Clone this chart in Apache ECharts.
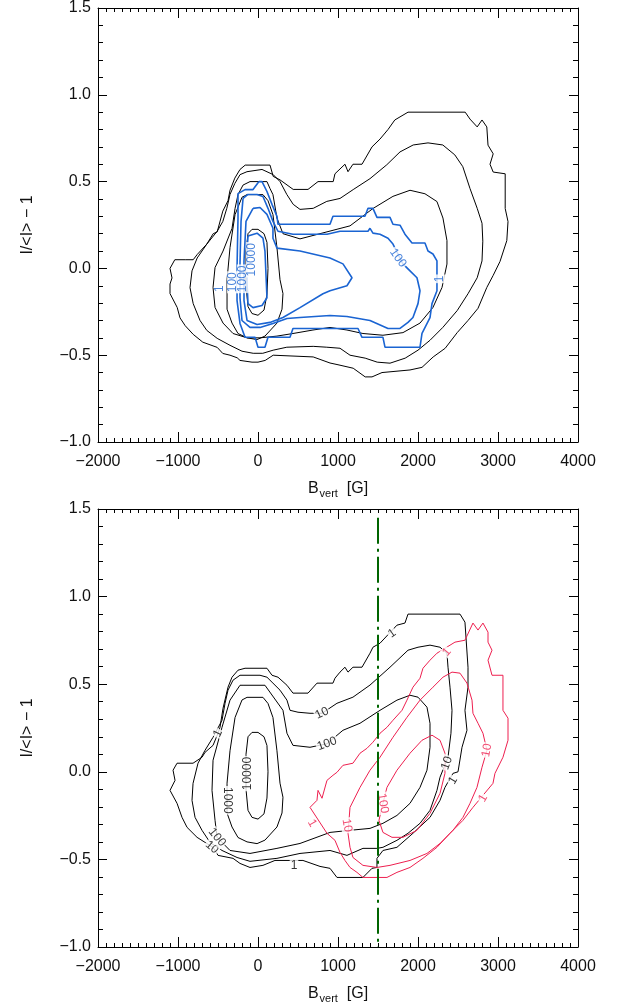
<!DOCTYPE html>
<html>
<head>
<meta charset="utf-8">
<script src="https://cdn.jsdelivr.net/npm/echarts@6/dist/echarts.min.js"></script>
<style>
  html, body { margin: 0; padding: 0; background: #fff; }
  #chart { width: 626px; height: 1008px; }
</style>
</head>
<body>
<div id="chart"></div>
<script>
// contour paths, [B_vert (G), I/<I>-1]

// upper panel, black (all pixels)
const topBlack1 = [[-1040,0.05],[-910,0.05],[-810,0.05],[-760,0.08],[-640,0.14],[-560,0.2],[-510,0.21],[-440,0.33],[-375,0.39],[-350,0.45],[-290,0.52],[-225,0.57],[-160,0.595],[150,0.595],[190,0.53],[275,0.51],[440,0.455],[625,0.455],[750,0.5],[940,0.5],[962,0.545],[1087,0.6],[1125,0.557],[1187,0.6],[1300,0.6],[1425,0.7],[1525,0.745],[1625,0.8],[1710,0.855],[1875,0.9],[2590,0.9],[2650,0.86],[2740,0.815],[2800,0.855],[2860,0.815],[2875,0.71],[2940,0.66],[2900,0.6],[2940,0.555],[3090,0.545],[3090,0.345],[3125,0.27],[3110,0.16],[3025,0.04],[2940,-0.04],[2860,-0.11],[2750,-0.23],[2625,-0.3],[2490,-0.37],[2340,-0.46],[2190,-0.51],[2050,-0.57],[1900,-0.585],[1550,-0.6],[1425,-0.625],[1340,-0.625],[1190,-0.575],[1000,-0.555],[900,-0.545],[690,-0.51],[190,-0.5],[90,-0.53],[0,-0.54],[-75,-0.54],[-225,-0.53],[-260,-0.515],[-350,-0.5],[-440,-0.49],[-510,-0.455],[-690,-0.425],[-810,-0.38],[-910,-0.33],[-975,-0.285],[-1010,-0.225],[-1100,-0.145],[-1100,-0.09],[-1075,-0.055],[-1100,0],[-1040,0.05]];
const topBlack10 = [[-225,0.54],[-138,0.557],[50,0.57],[190,0.54],[275,0.5],[360,0.426],[440,0.369],[525,0.34],[690,0.346],[860,0.386],[1025,0.403],[1190,0.454],[1400,0.517],[1610,0.597],[1775,0.671],[1940,0.711],[2125,0.723],[2310,0.711],[2460,0.654],[2560,0.586],[2650,0.46],[2740,0.346],[2800,0.26],[2810,0.157],[2800,0.043],[2740,-0.054],[2625,-0.146],[2490,-0.243],[2310,-0.34],[2150,-0.414],[2000,-0.471],[1840,-0.517],[1650,-0.546],[1490,-0.54],[1340,-0.517],[1150,-0.5],[1025,-0.46],[860,-0.454],[690,-0.449],[360,-0.454],[190,-0.471],[60,-0.489],[-60,-0.489],[-200,-0.477],[-350,-0.443],[-510,-0.403],[-640,-0.357],[-725,-0.3],[-810,-0.203],[-850,-0.111],[-825,-0.014],[-760,0.06],[-640,0.14],[-510,0.214],[-440,0.27],[-390,0.346],[-350,0.426],[-290,0.489],[-225,0.54]];
const topBlack100 = [[-100,0.5],[112,0.5],[150,0.46],[187,0.425],[237,0.29],[312,0.2],[525,0.17],[900,0.215],[1150,0.245],[1437,0.345],[1687,0.415],[1900,0.45],[2087,0.43],[2237,0.385],[2312,0.29],[2362,0.16],[2362,0.025],[2300,-0.11],[2187,-0.225],[2025,-0.315],[1812,-0.37],[1562,-0.385],[1312,-0.375],[1112,-0.355],[900,-0.34],[687,-0.355],[437,-0.375],[237,-0.39],[25,-0.4],[-137,-0.4],[-312,-0.375],[-437,-0.315],[-537,-0.225],[-562,-0.11],[-537,0.005],[-437,0.1],[-325,0.23],[-287,0.345],[-250,0.425],[-187,0.48],[-100,0.5]];
// core contours, same in both panels
const coreBlack1000 = [[-200,0.41],[-137,0.425],[62,0.425],[125,0.39],[187,0.31],[237,0.12],[275,-0.065],[312,-0.145],[300,-0.235],[237,-0.315],[87,-0.39],[-12,-0.41],[-137,-0.4],[-250,-0.375],[-325,-0.315],[-387,-0.235],[-387,-0.065],[-350,0.12],[-287,0.31],[-200,0.41]];
const coreBlack10000 = [[-125,0.2],[-75,0.225],[0,0.225],[75,0.2],[112,0.15],[125,0],[112,-0.15],[75,-0.24],[0,-0.27],[-75,-0.26],[-125,-0.22],[-150,-0.1],[-150,0.1],[-125,0.2]];

// upper panel, blue
const topBlue1 = [[12,0.5],[50,0.5],[112,0.443],[175,0.369],[237,0.3],[250,0.254],[900,0.254],[937,0.3],[1337,0.3],[1375,0.346],[1437,0.346],[1487,0.294],[1650,0.294],[1687,0.254],[1775,0.249],[1837,0.197],[1925,0.146],[2087,0.146],[2125,0.1],[2187,0.083],[2237,0.043],[2237,-0.129],[2175,-0.203],[2150,-0.283],[2050,-0.374],[2025,-0.454],[1587,-0.454],[1562,-0.397],[1300,-0.397],[1250,-0.346],[437,-0.346],[400,-0.397],[125,-0.397],[87,-0.454],[0,-0.454],[-37,-0.397],[-162,-0.397],[-225,-0.317],[-262,-0.186],[-262,0.003],[-250,0.289],[-250,0.431],[-162,0.454],[-62,0.454],[12,0.5]];
const topBlue100 = [[-187,0.403],[-125,0.426],[-12,0.426],[62,0.414],[125,0.346],[187,0.271],[250,0.214],[437,0.197],[862,0.197],[1025,0.214],[1375,0.214],[1400,0.231],[1437,0.203],[1525,0.197],[1625,0.174],[1687,0.14],[1812,0.026],[1900,-0.014],[1987,-0.054],[2025,-0.129],[2000,-0.203],[1937,-0.283],[1875,-0.311],[1775,-0.346],[1625,-0.346],[1400,-0.3],[1112,-0.277],[900,-0.271],[525,-0.283],[362,-0.289],[187,-0.317],[25,-0.34],[-100,-0.34],[-200,-0.3],[-225,-0.169],[-225,0.026],[-212,0.271],[-187,0.403]];
const topBlue1000 = [[-62,0.346],[25,0.351],[112,0.311],[187,0.231],[187,0.174],[237,0.117],[525,0.1],[900,0.06],[1062,0.026],[1175,-0.054],[1112,-0.1],[900,-0.129],[812,-0.146],[525,-0.226],[312,-0.283],[150,-0.311],[-12,-0.323],[-137,-0.3],[-175,-0.186],[-175,0.043],[-150,0.271],[-62,0.346]];
const topBlue10000 = [[-125,0.186],[-12,0.203],[62,0.174],[87,0.1],[112,-0.169],[50,-0.214],[-62,-0.226],[-125,-0.203],[-137,-0.089],[-137,0.1],[-125,0.186]];

// lower panel, black
const botBlack1 = [[-1012,0.049],[-812,0.049],[-700,0.083],[-662,0.111],[-562,0.151],[-500,0.22],[-475,0.254],[-437,0.363],[-375,0.483],[-325,0.54],[-250,0.58],[-162,0.591],[112,0.591],[175,0.551],[250,0.54],[362,0.494],[437,0.449],[625,0.449],[737,0.506],[937,0.506],[962,0.534],[1025,0.569],[1087,0.597],[1125,0.569],[1187,0.597],[1300,0.597],[1400,0.677],[1437,0.711],[1525,0.734],[1737,0.837],[1837,0.849],[1875,0.9],[2525,0.9],[2587,0.854],[2625,0.597],[2625,0.483],[2587,0.351],[2612,0.237],[2550,0.14],[2500,0],[2437,-0.009],[2337,-0.089],[2275,-0.163],[2150,-0.26],[1937,-0.351],[1737,-0.431],[1562,-0.449],[1487,-0.494],[1487,-0.546],[1425,-0.551],[1312,-0.603],[987,-0.603],[900,-0.551],[775,-0.54],[562,-0.506],[212,-0.506],[62,-0.534],[-100,-0.546],[-225,-0.523],[-312,-0.494],[-500,-0.477],[-562,-0.431],[-662,-0.403],[-762,-0.374],[-887,-0.317],[-950,-0.26],[-1012,-0.18],[-1100,-0.106],[-1037,-0.049],[-1062,0.009],[-1012,0.049]];
const botBlack10 = [[-225,0.551],[-312,0.523],[-375,0.466],[-412,0.391],[-450,0.294],[-562,0.197],[-662,0.123],[-750,0.049],[-812,-0.066],[-825,-0.163],[-787,-0.26],[-700,-0.334],[-600,-0.403],[-450,-0.449],[-262,-0.489],[-100,-0.511],[237,-0.494],[525,-0.466],[900,-0.449],[1112,-0.477],[1312,-0.437],[1487,-0.437],[1562,-0.431],[1737,-0.391],[1875,-0.351],[2025,-0.294],[2150,-0.22],[2237,-0.106],[2275,-0.031],[2375,0.083],[2412,0.22],[2425,0.351],[2400,0.483],[2375,0.597],[2362,0.677],[2275,0.711],[2150,0.723],[2000,0.711],[1875,0.694],[1650,0.597],[1400,0.495],[1187,0.426],[987,0.391],[800,0.334],[650,0.334],[500,0.34],[400,0.351],[362,0.409],[275,0.466],[187,0.506],[112,0.54],[25,0.551],[-225,0.551]];
const botBlack100 = [[-187,0.494],[87,0.494],[312,0.351],[362,0.22],[437,0.151],[650,0.14],[862,0.16],[1062,0.237],[1275,0.277],[1525,0.351],[1737,0.409],[1900,0.437],[2000,0.426],[2112,0.369],[2150,0.277],[2150,0.14],[2112,0.009],[2025,-0.089],[1900,-0.18],[1737,-0.249],[1562,-0.294],[1400,-0.323],[1150,-0.334],[900,-0.346],[525,-0.409],[237,-0.437],[-100,-0.466],[-350,-0.449],[-512,-0.374],[-537,-0.277],[-575,-0.106],[-562,0.066],[-450,0.254],[-350,0.409],[-225,0.494],[-187,0.494]];

// lower panel, red
const botRed1 = [[862,-0.351],[650,-0.203],[737,-0.163],[750,-0.106],[800,-0.151],[862,-0.049],[937,-0.02],[987,-0.003],[1062,0.037],[1187,0.049],[1275,0.106],[1362,0.134],[1437,0.169],[1525,0.22],[1612,0.254],[1687,0.294],[1800,0.351],[1862,0.409],[1937,0.483],[2025,0.534],[2062,0.591],[2150,0.637],[2237,0.677],[2462,0.74],[2587,0.751],[2687,0.849],[2750,0.809],[2812,0.849],[2875,0.797],[2875,0.74],[2925,0.694],[2875,0.637],[2925,0.551],[3062,0.551],[3062,0.351],[3125,0.306],[3125,0.18],[3062,0.083],[2962,-0.009],[2937,-0.066],[2687,-0.203],[2562,-0.277],[2400,-0.351],[2237,-0.431],[2062,-0.494],[1900,-0.546],[1737,-0.574],[1612,-0.603],[1312,-0.603],[1237,-0.574],[1150,-0.546],[1087,-0.506],[1025,-0.46],[962,-0.391],[862,-0.351]];
const botRed10 = [[2425,0.569],[2525,0.563],[2612,0.506],[2675,0.409],[2687,0.334],[2750,0.277],[2812,0.22],[2862,0.123],[2800,0.026],[2737,-0.089],[2650,-0.18],[2562,-0.26],[2437,-0.334],[2275,-0.409],[2112,-0.466],[1900,-0.506],[1650,-0.534],[1487,-0.546],[1312,-0.534],[1187,-0.489],[1150,-0.431],[1125,-0.351],[1150,-0.203],[1275,-0.089],[1400,0.009],[1525,0.083],[1687,0.197],[1862,0.311],[2025,0.409],[2187,0.483],[2312,0.54],[2425,0.569]];
const botRed100 = [[2175,0.209],[2275,0.18],[2337,0.106],[2337,-0.009],[2275,-0.123],[2150,-0.237],[1987,-0.334],[1812,-0.374],[1675,-0.374],[1562,-0.346],[1512,-0.277],[1562,-0.18],[1612,-0.089],[1737,0.009],[1900,0.106],[2050,0.18],[2175,0.209]];

// cut at 1500 G
const cutB = 1500;
const cutRange = [-1.0, 1.45];

// contour labels: [B, I, text, angle]
const topBlueLabels = [[2275,-0.06,'1',90],[1750,0.06,'100',-55],[-475,-0.117,'1',90],[-312,-0.08,'100',90],[-190,-0.06,'1000',90],[-75,0.05,'10000',90]];
const botBlackLabels = [[-500,0.22,'1',65],[800,0.334,'10',25],[862,0.16,'100',20],[1675,0.79,'1',35],[2362,0.05,'10',70],[2437,-0.049,'1',60],[450,-0.534,'1',0],[-575,-0.431,'10',-40],[-512,-0.374,'100',-50],[-387,-0.163,'1000',-90],[-130,-0.01,'10000',90]];
const botRedLabels = [[2362,0.683,'1',50],[675,-0.294,'1',-60],[1112,-0.306,'10',-80],[1562,-0.18,'100',-80],[2862,0.123,'10',80],[2812,-0.151,'1',60]];

const BLACK = '#000';
const BLUE = '#1a64d2';
const RED = '#ee1f4f';
const GREEN = '#006400';
const FONT = 'Liberation Sans';

const minus = s => String(s).replace('-', '\u2212');

function xAxes(gridIndex) {
    const common = {
        gridIndex, type: 'value', min: -2000, max: 4000, interval: 1000,
        axisLine: { show: true, onZero: false, lineStyle: { color: BLACK, width: 1 } },
        axisTick: { show: true, inside: true, length: 10, lineStyle: { color: BLACK } },
        minorTick: { show: true, splitNumber: 10, length: 4, lineStyle: { color: BLACK } },
        splitLine: { show: false }
    };
    return [
        Object.assign({}, common, {
            position: 'bottom',
            axisLabel: { color: '#111', fontSize: 16, fontFamily: FONT, margin: 12, formatter: v => minus(v) },
            name: '{a|B}{b|vert}{a|  [G]}',
            nameLocation: 'middle',
            nameGap: 36,
            nameTextStyle: {
                rich: {
                    a: { fontSize: 16, fontFamily: FONT, color: '#111' },
                    b: { fontSize: 11, fontFamily: FONT, color: '#111', padding: [10, 0, 0, 1] }
                }
            }
        }),
        Object.assign({}, common, { position: 'top', axisLabel: { show: false } })
    ];
}

function yAxes(gridIndex) {
    const common = {
        gridIndex, type: 'value', min: -1.0, max: 1.5, interval: 0.5,
        axisLine: { show: true, onZero: false, lineStyle: { color: BLACK, width: 1 } },
        axisTick: { show: true, inside: true, length: 9, lineStyle: { color: BLACK } },
        minorTick: { show: true, splitNumber: 5, length: 5, lineStyle: { color: BLACK } },
        splitLine: { show: false }
    };
    return [
        Object.assign({}, common, {
            position: 'left',
            axisLabel: { color: '#111', fontSize: 16, fontFamily: FONT, margin: 7, formatter: v => minus(v.toFixed(1)) },
            name: 'I/<I> \u2212 1',
            nameLocation: 'middle',
            nameRotate: 90,
            nameGap: 62,
            nameTextStyle: { fontSize: 16, fontFamily: FONT, color: '#111' }
        }),
        Object.assign({}, common, { position: 'right', axisLabel: { show: false } })
    ];
}

function contour(data, color, width, axis) {
    return {
        type: 'line', data, xAxisIndex: axis, yAxisIndex: axis,
        symbol: 'none', showSymbol: false, silent: true, z: 2,
        lineStyle: { color, width }
    };
}

function labels(list, color, axis) {
    return {
        type: 'scatter', xAxisIndex: axis, yAxisIndex: axis, symbolSize: 0, silent: true, z: 5,
        data: list.map(d => ({
            value: [d[0], d[1]],
            label: {
                show: true, position: 'inside', formatter: d[2], rotate: d[3],
                color, fontSize: 12, fontFamily: FONT,
                backgroundColor: '#fff', padding: [0, 1]
            }
        }))
    };
}

const chart = echarts.init(document.getElementById('chart'), null, { renderer: 'canvas' });

chart.setOption({
    animation: false,
    backgroundColor: '#fff',
    grid: [
        { left: 98, top: 5, width: 480, height: 437 },
        { left: 98, top: 509, width: 480, height: 438 }
    ],
    xAxis: [...xAxes(0), ...xAxes(1)],
    yAxis: [...yAxes(0), ...yAxes(1)],
    series: [
        // upper panel (axes 0)
        contour(topBlack1, BLACK, 1, 0),
        contour(topBlack10, BLACK, 1, 0),
        contour(topBlack100, BLACK, 1, 0),
        contour(coreBlack1000, BLACK, 1, 0),
        contour(coreBlack10000, BLACK, 1, 0),
        contour(topBlue1, BLUE, 1.6, 0),
        contour(topBlue100, BLUE, 1.6, 0),
        contour(topBlue1000, BLUE, 1.6, 0),
        contour(topBlue10000, BLUE, 1.6, 0),
        labels(topBlueLabels, BLUE, 0),
        // lower panel (axes 2)
        contour(botBlack1, BLACK, 1, 2),
        contour(botBlack10, BLACK, 1, 2),
        contour(botBlack100, BLACK, 1, 2),
        contour(coreBlack1000, BLACK, 1, 2),
        contour(coreBlack10000, BLACK, 1, 2),
        contour(botRed1, RED, 1, 2),
        contour(botRed10, RED, 1, 2),
        contour(botRed100, RED, 1, 2),
        labels(botBlackLabels, BLACK, 2),
        labels(botRedLabels, RED, 2),
        {
            type: 'line', xAxisIndex: 2, yAxisIndex: 2, symbol: 'none', silent: true, z: 6,
            data: [[cutB, cutRange[1]], [cutB, cutRange[0]]],
            lineStyle: { color: GREEN, width: 2, type: [26, 5, 3, 5] }
        }
    ]
});
</script>
</body>
</html>
